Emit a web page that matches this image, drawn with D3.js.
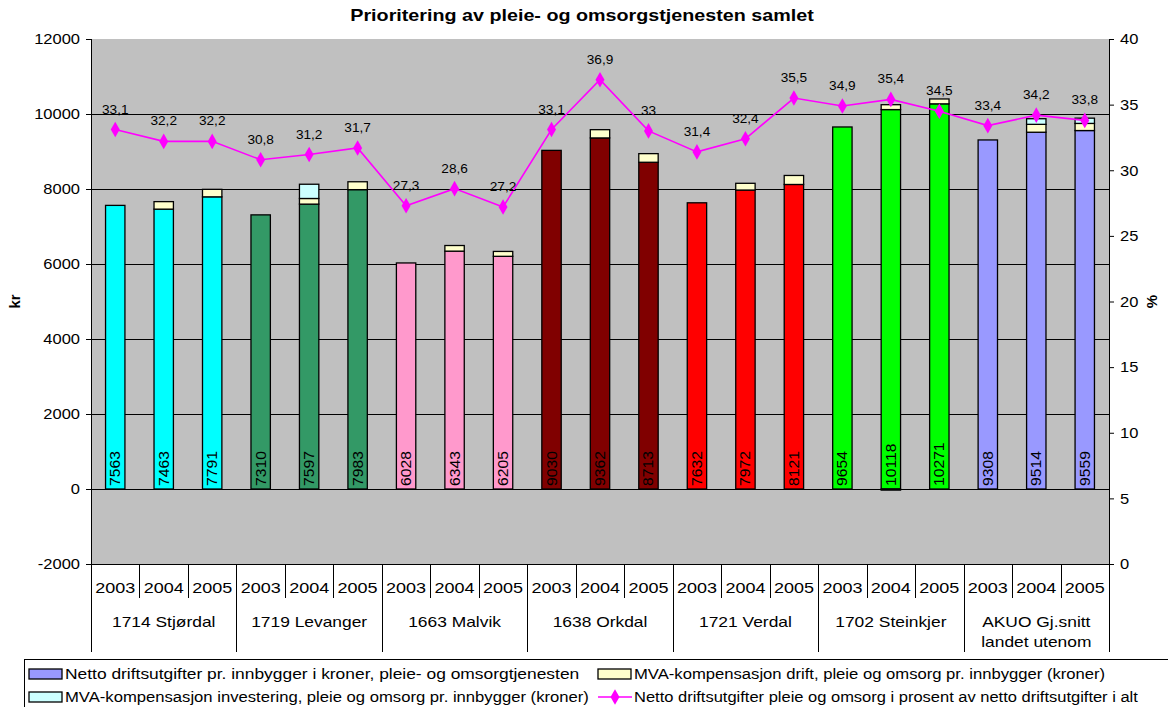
<!DOCTYPE html>
<html>
<head>
<meta charset="utf-8">
<script src="https://cdn.jsdelivr.net/npm/d3@7"></script>
<style>
  body { margin: 0; background: #fff; }
  svg text { font-family: "Liberation Sans", Arial, sans-serif; }
</style>
</head>
<body>
<div id="chart"></div>
<script>
// Data
const groups = ["1714 Stjørdal", "1719 Levanger", "1663 Malvik", "1638 Orkdal", "1721 Verdal", "1702 Steinkjer", "AKUO Gj.snitt\nlandet utenom"];
const years = ["2003", "2004", "2005"];
const groupColors = ["#00FFFF", "#339966", "#FF99CC", "#800000", "#FF0000", "#00FF00", "#9999FF"];

const netto = [7563, 7463, 7791, 7310, 7597, 7983, 6028, 6343, 6205, 9030, 9362, 8713, 7632, 7972, 8121, 9654, 10118, 10271, 9308, 9514, 9559];
const mvaDrift = [0, 200, 200, 0, 150, 210, 0, 150, 130, 0, 220, 230, 0, 180, 240, 0, 130, 130, 0, 210, 190];
const mvaInv = [0, 0, 0, 0, 380, 0, 0, 0, 0, 0, 0, 0, 0, 0, 0, 0, -30, 0, 0, 150, 140];
const prosent = [33.1, 32.2, 32.2, 30.8, 31.2, 31.7, 27.3, 28.6, 27.2, 33.1, 36.9, 33, 31.4, 32.4, 35.5, 34.9, 35.4, 34.5, 33.4, 34.2, 33.8];

const leftTicks = [-2000, 0, 2000, 4000, 6000, 8000, 10000, 12000];
const rightTicks = [0, 5, 10, 15, 20, 25, 30, 35, 40];

const title = "Prioritering av pleie- og omsorgstjenesten samlet";
const legendItems = [
  "Netto driftsutgifter pr. innbygger i kroner, pleie- og omsorgtjenesten",
  "MVA-kompensasjon drift, pleie og omsorg pr. innbygger (kroner)",
  "MVA-kompensasjon investering, pleie og omsorg pr. innbygger (kroner)",
  "Netto driftsutgifter pleie og omsorg i prosent av netto driftsutgifter i alt"
];

const width = 1168, height = 707;
const plot = { left: 91, right: 1109, top: 39, bottom: 564 };
const driftColor = "#FFFFCC", invColor = "#CCFFFF", lineColor = "#FF00FF";

const svg = d3.select("#chart").append("svg")
  .attr("width", width)
  .attr("height", height);

// text drawn with a horizontal stretch around its anchor point
// (the reference text is a bit wider than it is tall)
function wideText(parent, x, y, str, size, anchor, stretch) {
  return parent.append("text")
    .attr("transform", `translate(${x},${y}) scale(${stretch},1)`)
    .attr("text-anchor", anchor || "start")
    .attr("font-size", size)
    .attr("fill", "#000")
    .text(str);
}

const idx = d3.range(netto.length);
const x = d3.scaleBand().domain(idx).range([plot.left, plot.right]).paddingInner(0.6).paddingOuter(0.3);
const step = x.step();
const y = d3.scaleLinear().domain([-2000, 12000]).range([plot.bottom, plot.top]);
const y2 = d3.scaleLinear().domain([0, 40]).range([plot.bottom, plot.top]);

// plot background
svg.append("rect")
  .attr("x", plot.left).attr("y", plot.top)
  .attr("width", plot.right - plot.left).attr("height", plot.bottom - plot.top)
  .attr("fill", "#C0C0C0");

// gridlines
svg.append("g").selectAll("line")
  .data(leftTicks.filter(t => t > -2000 && t < 12000))
  .enter().append("line")
  .attr("x1", plot.left).attr("x2", plot.right)
  .attr("y1", d => Math.round(y(d)) + 0.5).attr("y2", d => Math.round(y(d)) + 0.5)
  .attr("stroke", "#000").attr("stroke-width", 1);

// stacked bars
const barGroup = svg.append("g");
idx.forEach(i => {
  const g = Math.floor(i / 3);
  const segs = [
    { y0: 0, y1: netto[i], fill: groupColors[g] },
    { y0: netto[i], y1: netto[i] + mvaDrift[i], fill: driftColor }
  ];
  if (mvaInv[i] > 0) {
    segs.push({ y0: netto[i] + mvaDrift[i], y1: netto[i] + mvaDrift[i] + mvaInv[i], fill: invColor });
  } else if (mvaInv[i] < 0) {
    segs.push({ y0: mvaInv[i], y1: 0, fill: invColor });
  }
  segs.filter(s => s.y1 !== s.y0).forEach(s => {
    barGroup.append("rect")
      .attr("x", x(i)).attr("width", x.bandwidth())
      .attr("y", y(s.y1)).attr("height", y(s.y0) - y(s.y1))
      .attr("fill", s.fill)
      .attr("stroke", "#000").attr("stroke-width", 1.3);
  });
  // value label inside bar, rotated
  const cx = x(i) + x.bandwidth() / 2;
  barGroup.append("text")
    .attr("transform", `translate(${cx + 5},${y(0) - 3}) rotate(-90) scale(1.12,1)`)
    .attr("font-size", 14)
    .attr("fill", "#000")
    .text(netto[i]);
});

// line series
const line = d3.line()
  .x(i => x(i) + x.bandwidth() / 2)
  .y(i => y2(prosent[i]));
svg.append("path")
  .datum(idx)
  .attr("d", line)
  .attr("fill", "none")
  .attr("stroke", lineColor)
  .attr("stroke-width", 1.6);

const diamond = d3.symbol().type(d3.symbolDiamond).size(70);
svg.append("g").selectAll("path")
  .data(idx)
  .enter().append("path")
  .attr("d", diamond)
  .attr("transform", i => `translate(${x(i) + x.bandwidth() / 2},${y2(prosent[i])})`)
  .attr("fill", lineColor);

const lineLabels = svg.append("g");
idx.forEach(i => {
  wideText(lineLabels, x(i) + x.bandwidth() / 2, y2(prosent[i]) - 16,
    String(prosent[i]).replace(".", ","), 13, "middle", 1.05);
});

// left axis
const leftAxis = svg.append("g")
  .attr("transform", `translate(${plot.left},0)`)
  .call(d3.axisLeft(y).tickValues(leftTicks).tickSize(5).tickPadding(5).tickFormat(d => String(d)));
leftAxis.select(".domain").remove();
leftAxis.selectAll("line").attr("stroke", "#000");
leftAxis.selectAll("text").attr("font-size", 15).attr("fill", "#000")
  .attr("transform", "scale(1.1,1)");

// right axis
const rightAxis = svg.append("g")
  .attr("transform", `translate(${plot.right},0)`)
  .call(d3.axisRight(y2).tickValues(rightTicks).tickSize(5).tickPadding(5));
rightAxis.select(".domain").remove();
rightAxis.selectAll("line").attr("stroke", "#000");
rightAxis.selectAll("text").attr("font-size", 15).attr("fill", "#000")
  .attr("transform", "scale(1.1,1)");

// axis lines
const axisLines = svg.append("g").attr("stroke", "#000").attr("stroke-width", 1);
axisLines.append("line").attr("x1", plot.left + 0.5).attr("x2", plot.left + 0.5).attr("y1", plot.top).attr("y2", 652);
axisLines.append("line").attr("x1", plot.right + 0.5).attr("x2", plot.right + 0.5).attr("y1", plot.top).attr("y2", 652);
axisLines.append("line").attr("x1", plot.left).attr("x2", plot.right).attr("y1", plot.bottom + 0.5).attr("y2", plot.bottom + 0.5);

// category separators and labels
d3.range(1, netto.length).forEach(k => {
  const xx = Math.round(plot.left + k * step) + 0.5;
  axisLines.append("line")
    .attr("x1", xx).attr("x2", xx)
    .attr("y1", plot.bottom).attr("y2", k % 3 === 0 ? 652 : 598);
});

const catLabels = svg.append("g");
idx.forEach(i => {
  wideText(catLabels, x(i) + x.bandwidth() / 2, 593, years[i % 3], 15, "middle", 1.2);
});

groups.forEach((name, g) => {
  const cx = plot.left + (g * 3 + 1.5) * step;
  name.split("\n").forEach((ln, j) => {
    wideText(catLabels, cx, 627 + j * 20, ln, 15, "middle", 1.16);
  });
});

// axis titles
svg.append("text")
  .attr("transform", `translate(20,${(plot.top + plot.bottom) / 2}) rotate(-90)`)
  .attr("text-anchor", "middle")
  .attr("font-size", 15).attr("font-weight", "bold")
  .text("kr");
svg.append("text")
  .attr("transform", `translate(1157,${(plot.top + plot.bottom) / 2}) rotate(-90)`)
  .attr("text-anchor", "middle")
  .attr("font-size", 15).attr("font-weight", "bold")
  .text("%");

// title
wideText(svg, 582, 21, title, 17, "middle", 1.16).attr("font-weight", "bold");

// legend
const legend = svg.append("g");
legend.append("rect")
  .attr("x", 24.5).attr("y", 659.5)
  .attr("width", 1160).attr("height", 60)
  .attr("fill", "#fff").attr("stroke", "#000").attr("stroke-width", 1);

const legendPos = [
  { x: 29, y: 674, type: "rect", fill: "#9999FF", stretch: 1.16 },
  { x: 598, y: 674, type: "rect", fill: driftColor, stretch: 1.11 },
  { x: 29, y: 697, type: "rect", fill: invColor, stretch: 1.11 },
  { x: 598, y: 697, type: "line", fill: lineColor, stretch: 1.1 }
];
legendItems.forEach((label, k) => {
  const p = legendPos[k];
  if (p.type === "rect") {
    legend.append("rect")
      .attr("x", p.x).attr("y", p.y - 5)
      .attr("width", 33).attr("height", 10)
      .attr("fill", p.fill).attr("stroke", "#000").attr("stroke-width", 1.3);
  } else {
    legend.append("line")
      .attr("x1", p.x).attr("x2", p.x + 34)
      .attr("y1", p.y).attr("y2", p.y)
      .attr("stroke", p.fill).attr("stroke-width", 1.6);
    legend.append("path")
      .attr("d", diamond)
      .attr("transform", `translate(${p.x + 17},${p.y})`)
      .attr("fill", p.fill);
  }
  wideText(legend, p.x + 36, p.y + 5, label, 15, "start", p.stretch);
});
</script>
</body>
</html>
